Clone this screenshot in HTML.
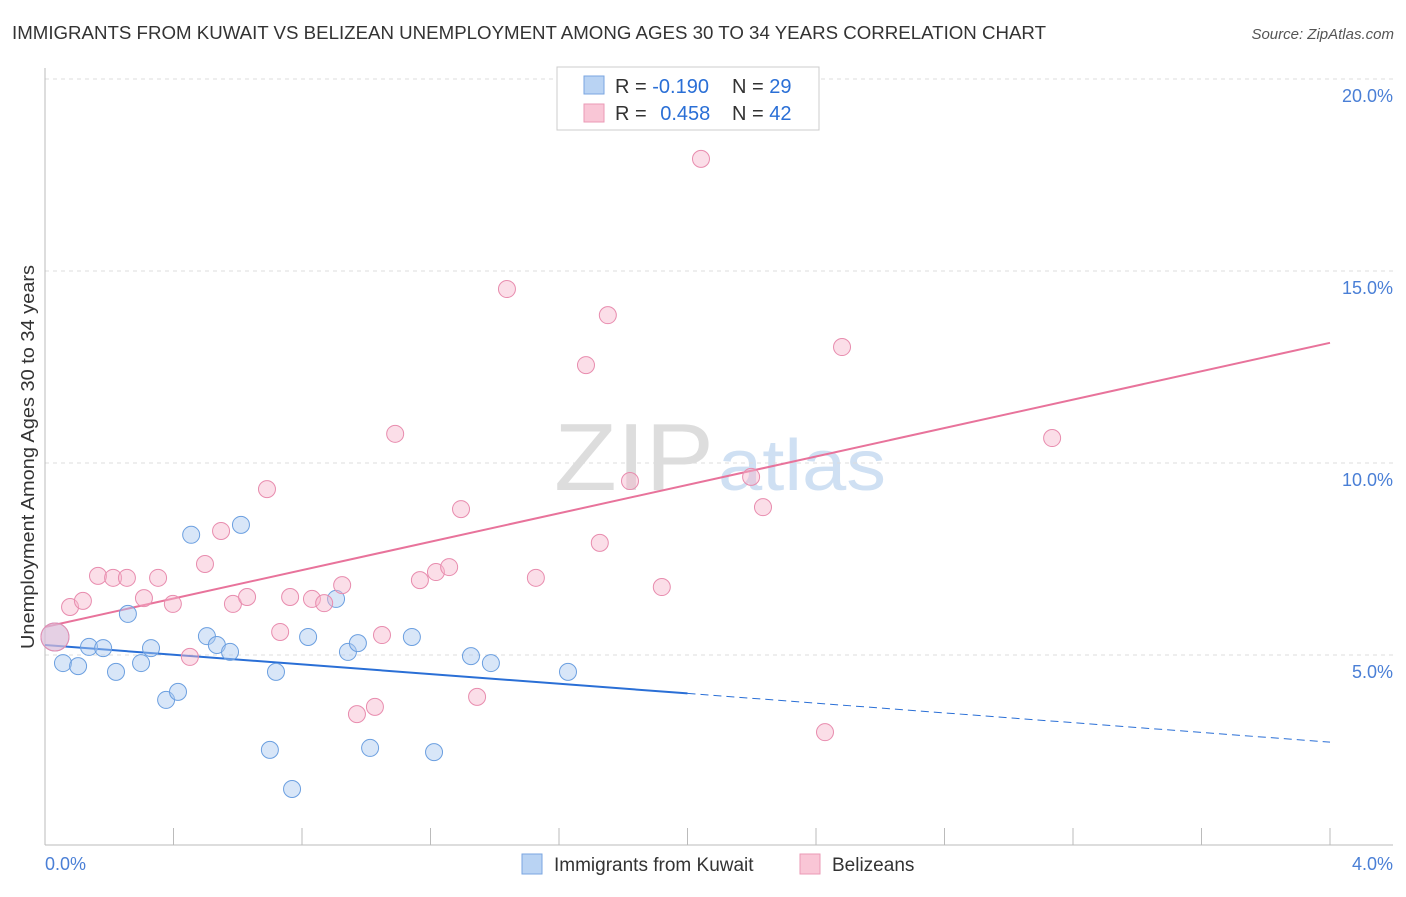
<!DOCTYPE html>
<html><head><meta charset="utf-8"><style>
body{margin:0;background:#fff;font-family:"Liberation Sans",sans-serif;}
svg text{font-family:"Liberation Sans",sans-serif;}
</style></head><body>
<svg id="chart" width="1406" height="892">
<text x="12" y="39" font-size="18" fill="#333" textLength="1034" lengthAdjust="spacingAndGlyphs">IMMIGRANTS FROM KUWAIT VS BELIZEAN UNEMPLOYMENT AMONG AGES 30 TO 34 YEARS CORRELATION CHART</text>
<text x="1394" y="39" font-size="15" fill="#555" text-anchor="end" font-style="italic">Source: ZipAtlas.com</text>
<text x="714" y="490" font-size="96" fill="#ddd" text-anchor="end" font-family="Liberation Serif" textLength="160" lengthAdjust="spacingAndGlyphs">ZIP</text>
<text x="718" y="490" font-size="72" fill="#cfe0f3" textLength="168" lengthAdjust="spacingAndGlyphs">atlas</text>
<g id="grid"></g>
<g id="axes"></g>
<g id="lines"></g>
<g id="points"></g>
<text transform="translate(34,457) rotate(-90)" font-size="18" fill="#333" text-anchor="middle" textLength="384" lengthAdjust="spacingAndGlyphs">Unemployment Among Ages 30 to 34 years</text>
<text x="45" y="870" font-size="18" fill="#4a7fd6">0.0%</text>
<text x="1393" y="870" font-size="18" fill="#4a7fd6" text-anchor="end">4.0%</text>
<g>
<rect x="557" y="67" width="262" height="63" fill="#fff" stroke="#ccc"/>
<rect x="584" y="76" width="20" height="18" fill="#b9d3f3" stroke="#7aa6e0"/>
<rect x="584" y="104" width="20" height="18" fill="#f9c6d6" stroke="#eb9ab6"/>
<text x="615" y="93" font-size="20" fill="#333">R = <tspan fill="#2a6fd6">-0.190</tspan></text>
<text x="732" y="93" font-size="20" fill="#333">N = <tspan fill="#2a6fd6">29</tspan></text>
<text x="615" y="120" font-size="20" fill="#333">R = <tspan fill="#2a6fd6" dx="8">0.458</tspan></text>
<text x="732" y="120" font-size="20" fill="#333">N = <tspan fill="#2a6fd6">42</tspan></text>
</g>
<g>
<rect x="522" y="854" width="20" height="20" fill="#b9d3f3" stroke="#7aa6e0"/>
<text x="554" y="871" font-size="19" fill="#333">Immigrants from Kuwait</text>
<rect x="800" y="854" width="20" height="20" fill="#f9c6d6" stroke="#eb9ab6"/>
<text x="832" y="871" font-size="19" fill="#333">Belizeans</text>
</g>
</svg>
<script>
const yTicks=[5,10,15,20];
const yTickLabels=["5.0%","10.0%","15.0%","20.0%"];
const xTicks=[0,0.4,0.8,1.2,1.6,2.0,2.4,2.8,3.2,3.6,4.0];
const blueX=[0.031,0.056,0.103,0.137,0.181,0.221,0.258,0.299,0.330,0.377,0.414,0.455,0.504,0.535,0.576,0.610,0.700,0.719,0.769,0.819,0.906,0.943,0.974,1.012,1.142,1.211,1.326,1.388,1.628];
const blueY=[5.47,4.79,4.71,5.21,5.18,4.56,6.07,4.79,5.18,3.83,4.04,8.13,5.49,5.26,5.08,8.39,2.53,4.56,1.51,5.47,6.46,5.08,5.31,2.58,5.47,2.47,4.97,4.79,4.56];
const pinkX=[0.031,0.078,0.118,0.165,0.212,0.255,0.308,0.352,0.398,0.451,0.498,0.548,0.585,0.629,0.691,0.732,0.763,0.831,0.869,0.925,0.971,1.027,1.049,1.090,1.167,1.217,1.258,1.295,1.345,1.438,1.528,1.684,1.727,1.752,1.821,1.920,2.042,2.198,2.235,2.428,2.481,3.135];
const pinkY=[5.47,6.25,6.41,7.06,7.01,7.01,6.48,7.01,6.33,4.95,7.37,8.23,6.33,6.51,9.32,5.60,6.51,6.46,6.35,6.82,3.46,3.65,5.52,10.76,6.95,7.16,7.29,8.80,3.91,14.53,7.01,12.55,7.92,13.85,9.53,6.77,17.92,9.64,8.85,2.99,13.02,10.65];
const blueTrendX=[0,2.0,4.0];
const blueTrendY=[5.26,4.0,2.73];
const pinkTrendX=[0,4.0];
const pinkTrendY=[5.73,13.13];
const NS="http://www.w3.org/2000/svg";
const sx=v=>45+v/4*1285;
const sy=v=>847-v*38.4;
function mk(t,a,p){const e=document.createElementNS(NS,t);for(const k in a)e.setAttribute(k,a[k]);p.appendChild(e);return e;}
const grid=document.getElementById('grid'),axes=document.getElementById('axes'),lines=document.getElementById('lines'),pts=document.getElementById('points');
yTicks.forEach((v,i)=>{
 const l=mk('line',{x1:45,x2:1393,y1:sy(v),y2:sy(v),stroke:'#ddd','stroke-dasharray':'4,4'},grid);
 
 
 const t=mk('text',{x:1393,y:sy(v)+23,'font-size':18,fill:'#4a7fd6','text-anchor':'end'},grid);
 t.textContent=yTickLabels[i];
 
 
});
const la=mk('line',{x1:45,x2:45,y1:68,y2:845,stroke:'#bbb'},axes);


const ba=mk('line',{x1:45,x2:1393,y1:845,y2:845,stroke:'#bbb'},axes);


xTicks.forEach(v=>{
 const t=mk('line',{x1:sx(v),x2:sx(v),y1:828,y2:845,stroke:'#bbb'},axes);
 
 
});
function pt(x,y,fill,stroke,r,name){
 const c=mk('circle',{cx:sx(x),cy:sy(y),r:r,fill:fill,'fill-opacity':0.45,stroke:stroke,'stroke-width':1},pts);
 
 
}
blueX.forEach((x,i)=>pt(x,blueY[i],'#a9c8f0','#6b9fe0',i==0?14:8.5,'kuwait-point'));
pinkX.forEach((x,i)=>pt(x,pinkY[i],'#f6b6cb','#e88cae',i==0?14:8.5,'belizean-point'));
const b1=mk('line',{x1:sx(blueTrendX[0]),y1:sy(blueTrendY[0]),x2:sx(blueTrendX[1]),y2:sy(blueTrendY[1]),stroke:'#2a6fd6','stroke-width':2},lines);


const b2=mk('line',{x1:sx(blueTrendX[1]),y1:sy(blueTrendY[1]),x2:sx(blueTrendX[2]),y2:sy(blueTrendY[2]),stroke:'#2a6fd6','stroke-width':1,'stroke-dasharray':'8,5'},lines);


const p1=mk('line',{x1:sx(pinkTrendX[0]),y1:sy(pinkTrendY[0]),x2:sx(pinkTrendX[1]),y2:sy(pinkTrendY[1]),stroke:'#e8739b','stroke-width':2},lines);


</script>
</body></html>
